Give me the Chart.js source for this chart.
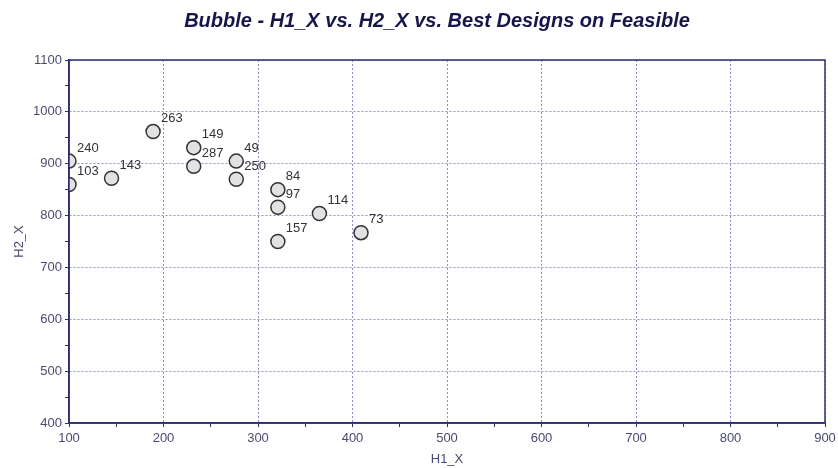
<!DOCTYPE html>
<html>
<head>
<meta charset="utf-8">
<script src="https://cdn.jsdelivr.net/npm/chart.js@4/dist/chart.umd.min.js"></script>
<style>
  html, body { margin: 0; padding: 0; background: #fff; }
  #wrap { width: 838px; height: 468px; }
</style>
</head>
<body>
<div id="wrap"><canvas id="bubble" width="838" height="468"></canvas></div>
<script>
//data
const designIds = ['240', '103', '143', '263', '149', '287', '49', '250', '84', '97', '114', '73', '157'];
const h1Values = [100, 100, 145, 189, 232, 232, 277, 277, 321, 321, 365, 409, 321];
const h2Values = [905, 860, 872, 962, 931, 895, 905, 870, 850, 816, 804, 767, 750];
const xTicks = [100, 200, 300, 400, 500, 600, 700, 800, 900];
const yTicks = [400, 500, 600, 700, 800, 900, 1000, 1100];

const navy = '#2e2e6e';
const gridBlue = '#8e8ecc';
const tickGray = '#4a4a70';
const font = "'Liberation Sans', Arial, sans-serif";

const points = h1Values.map((x, i) => ({ x: x, y: h2Values[i], r: 7 }));

//plugins
const titlePlugin = {
    id: 'main_title',
    afterDraw: (chart) => {
        const ctx = chart.ctx;
        ctx.save();
        ctx.font = 'italic bold 20px ' + font;
        ctx.fillStyle = '#16164a';
        ctx.textAlign = 'center';
        ctx.textBaseline = 'middle';
        ctx.fillText('Bubble - H1_X vs. H2_X vs. Best Designs on Feasible', 437, 21);
        ctx.restore();
    }
};

const framePlugin = {
    id: 'frame',
    afterDatasetsDraw: (chart) => {
        const a = chart.chartArea;
        const ctx = chart.ctx;
        ctx.save();
        ctx.strokeStyle = navy;
        ctx.lineWidth = 1.5;
        ctx.strokeRect(a.left, a.top, a.right - a.left, a.bottom - a.top);
        ctx.restore();
    }
};

const labelPlugin = {
    id: 'point_labels',
    afterDatasetsDraw: (chart) => {
        const ctx = chart.ctx;
        const meta = chart.getDatasetMeta(0);
        ctx.save();
        ctx.font = '13px ' + font;
        ctx.fillStyle = '#333';
        ctx.textAlign = 'left';
        ctx.textBaseline = 'middle';
        meta.data.forEach((el, i) => {
            ctx.fillText(designIds[i], el.x + 8, el.y - 13);
        });
        ctx.restore();
    }
};

const major = (v, list) => list.includes(v);

//config
const config = {
    type: 'bubble',
    data: {
        datasets: [{
            label: 'Best Designs',
            data: points,
            backgroundColor: '#e2e2e2',
            borderColor: '#333',
            borderWidth: 1.5,
            clip: 0
        }]
    },
    options: {
        responsive: false,
        animation: false,
        layout: { padding: { top: 60, right: 13, bottom: 0, left: 0 } },
        plugins: {
            legend: { display: false },
            tooltip: { enabled: false },
            title: { display: false }
        },
        scales: {
            x: {
                type: 'linear',
                min: 100,
                max: 900,
                afterFit: (s) => {
                    s.height = 45;
                    s.paddingLeft = 0;
                    s.paddingRight = 0;
                },
                afterBuildTicks: (s) => {
                    s.ticks = [];
                    for (let v = 100; v <= 900; v += 50) s.ticks.push({ value: v });
                },
                ticks: {
                    color: tickGray,
                    font: { family: font, size: 13 },
                    padding: 4,
                    maxRotation: 0,
                    autoSkip: false,
                    callback: (v) => major(v, xTicks) ? String(v) : ''
                },
                grid: {
                    color: (c) => major(c.tick && c.tick.value, xTicks) ? gridBlue : 'rgba(0,0,0,0)',
                    tickColor: navy,
                    tickLength: 4,
                    lineWidth: 1
                },
                border: { color: navy, width: 1.5, dash: [2, 2] },
                title: {
                    display: true,
                    text: 'H1_X',
                    color: tickGray,
                    font: { family: font, size: 13 },
                    padding: { top: 0, bottom: 1 }
                }
            },
            y: {
                type: 'linear',
                min: 400,
                max: 1100,
                afterFit: (s) => {
                    s.width = 69;
                    s.paddingTop = 0;
                    s.paddingBottom = 0;
                },
                afterBuildTicks: (s) => {
                    s.ticks = [];
                    for (let v = 400; v <= 1100; v += 50) s.ticks.push({ value: v });
                },
                ticks: {
                    color: tickGray,
                    font: { family: font, size: 13 },
                    padding: 3,
                    autoSkip: false,
                    callback: (v) => major(v, yTicks) ? String(v) : ''
                },
                grid: {
                    color: (c) => major(c.tick && c.tick.value, yTicks) ? gridBlue : 'rgba(0,0,0,0)',
                    tickColor: navy,
                    tickLength: 4,
                    lineWidth: 1
                },
                border: { color: navy, width: 1.5, dash: [2, 2] },
                title: {
                    display: true,
                    text: 'H2_X',
                    color: tickGray,
                    font: { family: font, size: 13 },
                    padding: { top: 12, bottom: 0 }
                }
            }
        }
    },
    plugins: [labelPlugin, framePlugin, titlePlugin]
};

//render init
const chart = new Chart(document.getElementById('bubble'), config);
</script>
</body>
</html>
